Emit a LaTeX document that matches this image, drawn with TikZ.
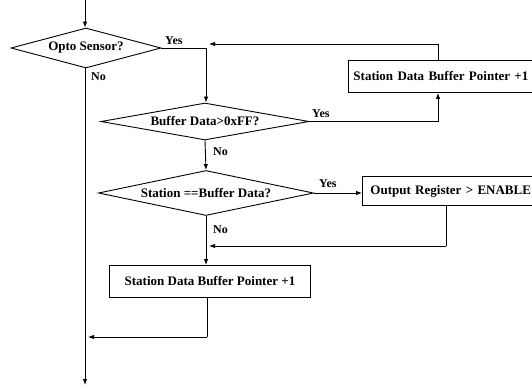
\documentclass[tikz,border=0pt]{standalone}
\usepackage{fontspec}
\setmainfont{Liberation Serif}
\usetikzlibrary{shapes.geometric,arrows.meta}
\begin{document}
\begin{tikzpicture}[x=1pt,y=-1pt,
  every node/.style={font=\fontsize{13}{15}\selectfont\bfseries},
  dia/.style={draw,shape=diamond,inner sep=0pt,line width=0.9pt},
  box/.style={draw,rectangle,line width=0.9pt,inner ysep=0pt},
  lbl/.style={inner sep=0pt,font=\fontsize{12}{14}\selectfont\bfseries},
  conn/.style={line width=0.9pt},
  arr/.style={line width=0.9pt,-{Latex[length=6pt,width=4.5pt]}}]
\useasboundingbox (0,0) rectangle (532,390);
\clip (0,0) rectangle (532,390);
% decisions
\node[dia,minimum width=150pt,minimum height=40pt,shape aspect=3.75] (opto) at (86,48) {Opto Sensor?};
\node[dia,minimum width=208pt,minimum height=37pt,shape aspect=5.6] (buf) at (205,121.5) {Buffer Data>0xFF?};
\node[dia,minimum width=215pt,minimum height=45pt,shape aspect=4.8] (sta) at (206,193) {Station ==Buffer Data?};
% processes
\node[box,anchor=north west,minimum height=32pt,text width=200pt,inner xsep=5pt,align=left] (b1) at (348,60) {Station Data Buffer Pointer +1};
\node[box,anchor=north west,minimum height=29pt,text width=190pt,inner xsep=8pt,align=left] (outr) at (362,176) {Output Register > ENABLE};
\node[box,anchor=north west,minimum height=32pt,minimum width=201pt] (b2) at (109,265) {Station Data Buffer Pointer +1};
% helper coordinates
\coordinate (start) at (85,0);
\coordinate (endp) at (85,385);
\coordinate (j1) at (206,48);
\coordinate (fb1) at (438,44);
\coordinate (fb1end) at (209,44);
\coordinate (y1) at (438,121.5);
\coordinate (fb2) at (446,246);
\coordinate (fb2end) at (209,246);
\coordinate (fb3) at (207,337);
\coordinate (fb3end) at (88,337);
% connectors
\draw[arr] (start) -- (start |- opto.north);
\draw[arr] (opto.east) -- (j1) -- (j1 |- buf.north);
\draw[conn] (b1.north -| fb1) -- (fb1);
\draw[arr] (fb1) -- (fb1end);
\draw[arr] (buf.east) -- (y1) -- (b1.south -| y1);
\draw[arr] (buf.south) -- (sta.north);
\draw[arr] (sta.east) -- (outr.west |- sta.east);
\draw[conn] (outr.south -| fb2) -- (fb2);
\draw[arr] (fb2) -- (fb2end);
\draw[arr] (sta.south) -- (b2.north -| sta.south);
\draw[conn] (b2.south -| fb3) -- (fb3);
\draw[arr] (fb3) -- (fb3end);
\draw[arr] (start |- opto.south) -- (endp);
% labels
\node[lbl,anchor=south west] (l1) at (165,45) {Yes};
\node[lbl,anchor=north west] (l2) at (91,72) {No};
\node[lbl,anchor=south west] (l3) at (312,118) {Yes};
\node[lbl,anchor=west] (l4) at (213,152) {No};
\node[lbl,anchor=south west] (l5) at (319,188) {Yes};
\node[lbl,anchor=west] (l6) at (213,230) {No};
\end{tikzpicture}
\end{document}
